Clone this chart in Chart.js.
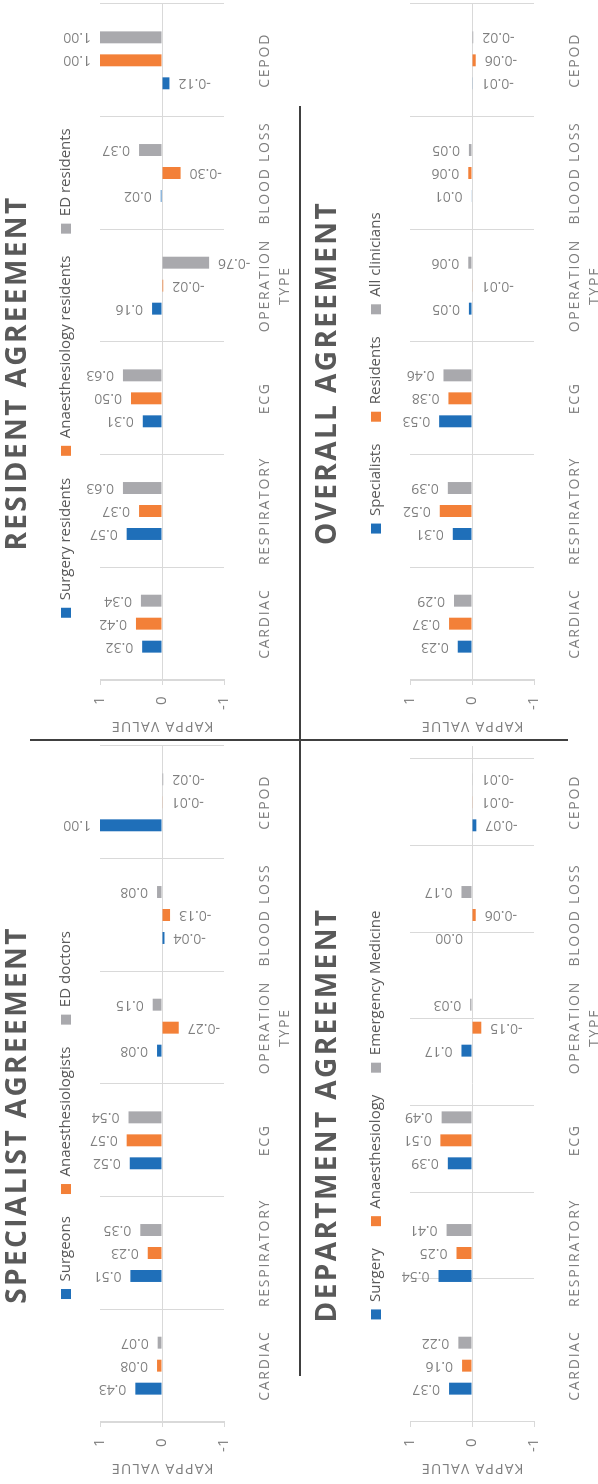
<!DOCTYPE html>
<html>
<head>
<meta charset="utf-8">
<title>Kappa agreement by clinician group</title>
<script src="https://cdn.jsdelivr.net/npm/chart.js"></script>
<style>
  html, body { margin: 0; padding: 0; background: #ffffff; overflow: hidden; }
  /* The four panels are laid out landscape and the whole sheet is turned a quarter turn. */
  #sheet {
    position: absolute; left: 0; top: 0;
    width: 1484px; height: 598px;
    background: #ffffff;
    transform-origin: 0 0;
    transform: translateY(1484px) rotate(-90deg);
  }
  #sheet canvas { position: absolute; }
  #specialist { left: 0; top: 0; }
  #resident { left: 742px; top: 0; }
  #department { left: 0; top: 310px; }
  #overall { left: 742px; top: 310px; }
  .rule { position: absolute; background: #404040; }
  .rule.across { left: 108px; top: 299px; width: 1270px; height: 1.5px; }
  .rule.down { left: 743px; top: 30px; width: 1.5px; height: 538px; }
</style>
</head>
<body>
<div id="sheet">
  <canvas id="specialist" width="742" height="298"></canvas>
  <canvas id="resident" width="742" height="298"></canvas>
  <canvas id="department" width="742" height="288"></canvas>
  <canvas id="overall" width="742" height="288"></canvas>
  <div class="rule across"></div>
  <div class="rule down"></div>
</div>
<script>
// ---- data ----
const categories = ['CARDIAC', 'RESPIRATORY', 'ECG', ['OPERATION', 'TYPE'], 'BLOOD LOSS', 'CEPOD'];
const kappaTicks = [-1, 0, 1];

const specialistGroups = ['Surgeons', 'Anaesthesiologists', 'ED doctors'];
const specialistSurgeons = [0.43, 0.51, 0.52, 0.08, -0.04, 1.00];
const specialistAnaesthesiologists = [0.08, 0.23, 0.57, -0.27, -0.13, -0.01];
const specialistEdDoctors = [0.07, 0.35, 0.54, 0.15, 0.08, -0.02];

const residentGroups = ['Surgery residents', 'Anaesthesiology residents', 'ED residents'];
const residentSurgery = [0.32, 0.57, 0.31, 0.16, 0.02, -0.12];
const residentAnaesthesiology = [0.42, 0.37, 0.50, -0.02, -0.30, 1.00];
const residentEd = [0.34, 0.63, 0.63, -0.76, 0.37, 1.00];

const departmentGroups = ['Surgery', 'Anaesthesiology', 'Emergency Medicine'];
const departmentSurgery = [0.37, 0.54, 0.39, 0.17, 0.00, -0.07];
const departmentAnaesthesiology = [0.16, 0.25, 0.51, -0.15, -0.06, -0.01];
const departmentEmergency = [0.22, 0.41, 0.49, 0.03, 0.17, -0.01];

const overallGroups = ['Specialists', 'Residents', 'All clinicians'];
const overallSpecialists = [0.23, 0.31, 0.53, 0.05, 0.01, -0.01];
const overallResidents = [0.37, 0.52, 0.38, -0.01, 0.06, -0.06];
const overallAllClinicians = [0.29, 0.39, 0.46, 0.06, 0.05, -0.02];

// ---- styling ----
const FONT = '"Open Sans", "Noto Sans", sans-serif';
const SERIES_COLORS = ['#1f6fb9', '#f38038', '#a9a9ad'];
const GRID = '#d9d9d9';
const MUTED = '#7f7f7f';
const DARK = '#595959';
const PLOT_BOTTOM = 224; // y of the -1 line inside each panel

// Extra room between the legend row and the plot.
const legendGap = {
  id: 'legendGap',
  beforeLayout(chart, args, opts) {
    const legend = chart.legend;
    if (!legend || legend.gapAdded) return;
    const fit = legend.fit;
    legend.fit = function () { fit.call(this); this.height += opts.gap; };
    legend.gapAdded = true;
  }
};

// Tracked (letter-spaced) text for the title, category labels and axis title.
function withSpacing(target, method, spacing) {
  if (!target || !spacing || target[method].spaced) return;
  const original = target[method];
  const patched = function (...args) {
    const ctx = this.ctx;
    ctx.save();
    ctx.letterSpacing = spacing;
    original.apply(this, args);
    ctx.restore();
  };
  patched.spaced = true;
  target[method] = patched;
}
const spacedText = {
  id: 'spacedText',
  beforeDraw(chart, args, opts) {
    withSpacing(chart.titleBlock, 'draw', opts.title);
    withSpacing(chart.scales.x, 'drawLabels', opts.ticks);
    withSpacing(chart.scales.y, 'drawTitle', opts.axisTitle);
  }
};

// Value labels just past the end of each bar, written along the bar.
const barValueLabels = {
  id: 'barValueLabels',
  afterDatasetsDraw(chart, args, opts) {
    const ctx = chart.ctx;
    ctx.save();
    ctx.letterSpacing = '0px';
    ctx.font = opts.size + 'px ' + opts.family;
    ctx.fillStyle = opts.color;
    ctx.textBaseline = 'middle';
    chart.data.datasets.forEach((ds, di) => {
      const meta = chart.getDatasetMeta(di);
      if (meta.hidden) return;
      meta.data.forEach((bar, i) => {
        const v = ds.data[i];
        const up = v >= 0;
        ctx.save();
        ctx.translate(bar.x, bar.y + (up ? -opts.offset : opts.offset));
        ctx.rotate(-Math.PI / 2);
        ctx.textAlign = up ? 'left' : 'right';
        ctx.fillText(v.toFixed(2), 0, 0);
        ctx.restore();
      });
    });
    ctx.restore();
  }
};

function buildChart(canvasId, title, groups, seriesValues, shiftedGrid) {
  const canvas = document.getElementById(canvasId);
  const axisBand = canvas.height - PLOT_BOTTOM;
  const scales = {
    x: {
      offset: true,
      afterFit: (axis) => { axis.height = axisBand; },
      grid: { offset: true, color: GRID, drawTicks: false, display: !shiftedGrid },
      border: { display: false },
      ticks: {
        color: MUTED, font: { family: FONT, size: 14, lineHeight: 1.4 },
        padding: 31.3, autoSkip: false, maxRotation: 0, minRotation: 0
      }
    },
    y: {
      min: -1, max: 1,
      afterBuildTicks: (axis) => { axis.ticks = kappaTicks.map((value) => ({ value })); },
      afterFit: (axis) => { axis.width = 62; },
      ticks: { color: MUTED, font: { family: FONT, size: 15 }, padding: 11.5 },
      grid: {
        color: (c) => (c.tick && c.tick.value === 0 ? GRID : 'rgba(0,0,0,0)'),
        tickColor: GRID, tickLength: 5
      },
      border: { display: true, color: GRID },
      title: {
        display: true, text: 'KAPPA VALUE', color: MUTED,
        font: { family: FONT, size: 14 }, padding: { top: 7.6, bottom: 0 }
      }
    }
  };
  if (shiftedGrid) {
    // vertical rules stepped back from the right edge, one unit apart
    scales.rules = {
      axis: 'x', type: 'linear', position: 'top', min: 0, max: 6.5,
      afterBuildTicks: (axis) => {
        const t = [];
        for (let v = 1.5; v <= 6.5; v += 1) t.push({ value: v });
        axis.ticks = t;
      },
      afterFit: (axis) => { axis.height = 0; },
      ticks: { display: false },
      grid: { color: GRID, drawTicks: false },
      border: { display: false }
    };
  }
  return new Chart(canvas, {
    type: 'bar',
    data: {
      labels: categories,
      datasets: groups.map((label, i) => ({
        label,
        data: seriesValues[i],
        backgroundColor: SERIES_COLORS[i],
        borderWidth: 0,
        categoryPercentage: 0.612,
        barPercentage: 0.52
      }))
    },
    options: {
      responsive: false,
      devicePixelRatio: 1,
      animation: false,
      layout: { padding: { top: 0, right: 4, bottom: 0, left: 0 } },
      scales,
      plugins: {
        title: {
          display: true, text: title, color: DARK,
          font: { family: FONT, size: 28, weight: 'bold', lineHeight: 1.2 },
          padding: { top: 1.5, bottom: 1.4 }
        },
        legend: {
          display: true, position: 'top',
          labels: { color: DARK, font: { family: FONT, size: 15 }, boxWidth: 10, boxHeight: 10, padding: 22 }
        },
        tooltip: { enabled: false },
        legendGap: { gap: 16.5 },
        spacedText: { title: '2.4px', ticks: '1.75px', axisTitle: '1.2px' },
        barValueLabels: { offset: 9, color: MUTED, size: 14, family: FONT }
      }
    },
    plugins: [legendGap, spacedText, barValueLabels]
  });
}

buildChart('specialist', 'SPECIALIST AGREEMENT', specialistGroups,
  [specialistSurgeons, specialistAnaesthesiologists, specialistEdDoctors], false);
buildChart('resident', 'RESIDENT AGREEMENT', residentGroups,
  [residentSurgery, residentAnaesthesiology, residentEd], false);
buildChart('department', 'DEPARTMENT AGREEMENT', departmentGroups,
  [departmentSurgery, departmentAnaesthesiology, departmentEmergency], true);
buildChart('overall', 'OVERALL AGREEMENT', overallGroups,
  [overallSpecialists, overallResidents, overallAllClinicians], false);
</script>
</body>
</html>
